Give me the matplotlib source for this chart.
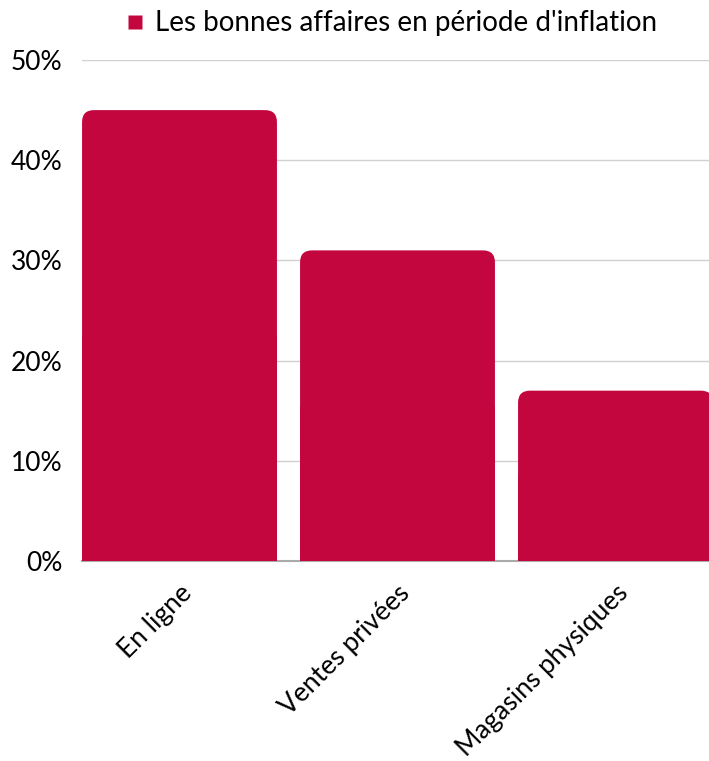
import matplotlib
matplotlib.use("Agg")
import matplotlib.pyplot as plt
from matplotlib.patches import FancyBboxPatch, Rectangle
from matplotlib.lines import Line2D

categories = ["En ligne", "Ventes privées", "Magasins physiques"]
values = [45, 31, 17]
series_name = "Les bonnes affaires en période d'inflation"
yticks = [0, 10, 20, 30, 40, 50]
ytick_labels = ["0%", "10%", "20%", "30%", "40%", "50%"]

color = "#C4063F"
plt.rcParams['font.family'] = ['Lato', 'DejaVu Sans']

W, H = 709, 761
fig = plt.figure(figsize=(W/100, H/100), dpi=100)
ax = fig.add_axes([82/W, 1-561/H, (709-82)/W, (561-60)/H])

x = list(range(len(categories)))
width = 0.894
bars = ax.bar(x, values, width=width, color=color, label=series_name, zorder=3)

# Round the top corners
r_x = 0.055
r_y = 1.2
for b in bars:
    b.set_visible(False)
    x0, y0 = b.get_x(), b.get_y()
    w, h = b.get_width(), b.get_height()
    fp = FancyBboxPatch((x0, y0), w, h,
                        boxstyle=f"round,pad=0,rounding_size={r_x}",
                        mutation_aspect=r_y / r_x,
                        facecolor=color, edgecolor='none', zorder=3)
    ax.add_patch(fp)
    ax.add_patch(Rectangle((x0, y0), w, h / 2, facecolor=color,
                           edgecolor='none', zorder=3))

ax.set_xlim(-(179.5 - 82) / 218, (709 - 179.5) / 218)
ax.set_ylim(0, 50)
ax.set_yticks(yticks)
ax.set_yticklabels(ytick_labels, fontsize=19)
ax.set_xticks(x)
ax.set_xticklabels(categories, fontsize=19, rotation=45, ha='right',
                   rotation_mode='anchor')

ax.tick_params(axis='both', length=0)
ax.tick_params(axis='y', pad=14)
ax.tick_params(axis='x', pad=14)
ax.grid(axis='y', color='#d0d0d0', linewidth=1, zorder=0)
ax.set_axisbelow(True)
for s in ['top', 'right', 'left']:
    ax.spines[s].set_visible(False)
ax.spines['bottom'].set_color('#aaaaaa')
ax.spines['bottom'].set_linewidth(1.5)
ax.spines['bottom'].set_zorder(1)

handle = Line2D([], [], marker='s', linestyle='none', markersize=10,
                markerfacecolor=color, markeredgecolor='none')
ax.legend([handle], [series_name], loc='lower center',
          bbox_to_anchor=(0.49, 1.025), frameon=False, fontsize=20,
          handletextpad=0.2, handlelength=1.0, borderaxespad=0)

fig.savefig("out.png", dpi=100)
